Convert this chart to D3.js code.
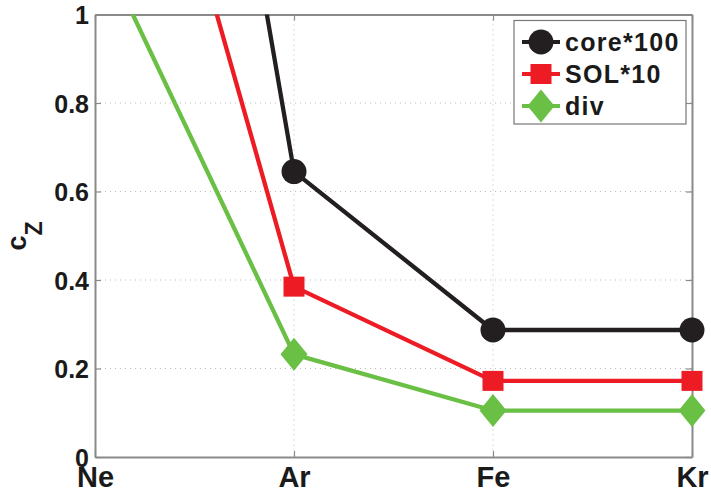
<!DOCTYPE html>
<html>
<head>
<meta charset="utf-8">
<script src="https://cdn.jsdelivr.net/npm/d3@7"></script>
<style>
  body { margin: 0; background: #fff; }
  text { font-family: "Liberation Sans", Arial, sans-serif; font-weight: bold; fill: #1a1a1a; }
</style>
</head>
<body>
<svg width="711" height="498"></svg>
<script>
// impurity species and concentration curves
const elements = ["Ne", "Ar", "Fe", "Kr"];
const core100 = [3.25, 0.645, 0.287, 0.287];
const sol10 = [1.97, 0.385, 0.172, 0.172];
const divValues = [1.18, 0.232, 0.105, 0.105];
const yTicks = [0, 0.2, 0.4, 0.6, 0.8, 1];
const yTickLabels = ["0", "0.2", "0.4", "0.6", "0.8", "1"];

const series = [
  {name: "core*100", values: core100, color: "#231f20", shape: "circle"},
  {name: "SOL*10", values: sol10, color: "#ed1c24", shape: "square"},
  {name: "div", values: divValues, color: "#6abf45", shape: "diamond"}
];

let svg = d3.select("svg");
const margin = {left: 95, top: 14.5, right: 19, bottom: 41};
const width = 711 - margin.left - margin.right;
const height = 498 - margin.top - margin.bottom;

let x = d3.scalePoint().domain(elements).range([0, width]);
let y = d3.scaleLinear().domain([0, 1]).range([height, 0]);

let g = svg.append("g").attr("transform", `translate(${margin.left},${margin.top})`);

svg.append("defs").append("clipPath").attr("id", "plotClip")
    .append("rect").attr("width", width).attr("height", height);

// dotted grid
g.append("g").selectAll("line.hgrid")
    .data(yTicks.slice(1, -1))
    .enter().append("line")
    .attr("x1", 0).attr("x2", width)
    .attr("y1", d => y(d)).attr("y2", d => y(d))
    .attr("stroke", "#bbb").attr("stroke-width", 1).attr("stroke-dasharray", "1,4");
g.append("g").selectAll("line.vgrid")
    .data(elements.slice(1, -1))
    .enter().append("line")
    .attr("y1", 0).attr("y2", height)
    .attr("x1", d => x(d)).attr("x2", d => x(d))
    .attr("stroke", "#bbb").attr("stroke-width", 1).attr("stroke-dasharray", "1,4");

// axes (ticks pointing inward, MATLAB-style box)
let yAxis = g.append("g")
    .call(d3.axisLeft(y).tickValues(yTicks).tickSizeInner(-6).tickSizeOuter(0)
        .tickFormat((d, i) => yTickLabels[i]).tickPadding(6));
let xAxis = g.append("g").attr("transform", `translate(0,${height})`)
    .call(d3.axisBottom(x).tickSizeInner(-6).tickSizeOuter(0));
g.append("g").attr("transform", `translate(${width},0)`)
    .call(d3.axisRight(y).tickValues(yTicks).tickSizeInner(-6).tickSizeOuter(0).tickFormat(""));
g.append("g")
    .call(d3.axisTop(x).tickSizeInner(-6).tickSizeOuter(0).tickFormat(""));

g.selectAll(".domain").attr("stroke", "#8a8a8a").attr("stroke-width", 2);
g.selectAll(".tick line").attr("stroke", "#8a8a8a").attr("stroke-width", 1.2);
yAxis.selectAll("text").attr("font-size", 25).attr("dy", "0.36em").style("fill", "#1a1a1a");
xAxis.selectAll("text").attr("font-size", 29).attr("y", 30).attr("dy", 0).style("fill", "#1a1a1a");

// y label
svg.append("text")
    .attr("transform", "translate(26,236) rotate(-90)")
    .attr("text-anchor", "middle")
    .attr("font-size", 27)
    .text("c")
    .append("tspan").attr("font-size", 23).attr("dy", 16).text("Z");

function drawMarker(sel, shape, color) {
  if (shape === "circle") {
    sel.append("circle").attr("r", 12.5).attr("fill", color);
  } else if (shape === "square") {
    sel.append("rect").attr("x", -10.5).attr("y", -10).attr("width", 21).attr("height", 20).attr("fill", color);
  } else {
    sel.append("path").attr("d", "M0,-16.5L13.5,0L0,16.5L-13.5,0Z").attr("fill", color);
  }
}

let line = d3.line().x((d, i) => x(elements[i])).y(d => y(d));
let plot = g.append("g");
series.slice().reverse().forEach(s => {
  plot.append("path")
      .datum(s.values)
      .attr("d", line)
      .attr("clip-path", "url(#plotClip)")
      .attr("fill", "none")
      .attr("stroke", s.color)
      .attr("stroke-width", 4.3)
      .attr("stroke-linejoin", "round");
  plot.selectAll(null)
      .data(s.values)
      .enter().append("g")
      .attr("transform", (d, i) => `translate(${x(elements[i])},${y(d)})`)
      .each(function() { drawMarker(d3.select(this), s.shape, s.color); });
});

// legend
let legend = svg.append("g").attr("transform", "translate(514,20.5)");
legend.append("rect").attr("width", 172).attr("height", 103.5)
    .attr("fill", "#fff").attr("stroke", "#777").attr("stroke-width", 1.2);
series.forEach((s, i) => {
  let row = legend.append("g").attr("transform", `translate(0,${21.5 + i * 32})`);
  row.append("line").attr("x1", 8).attr("x2", 46).attr("stroke", s.color).attr("stroke-width", 4);
  let m = row.append("g").attr("transform", "translate(27,0)");
  drawMarker(m, s.shape, s.color);
  row.append("text").attr("x", 51).attr("dy", "0.36em").attr("font-size", 25)
      .attr("letter-spacing", 1.3).text(s.name);
});
</script>
</body>
</html>
